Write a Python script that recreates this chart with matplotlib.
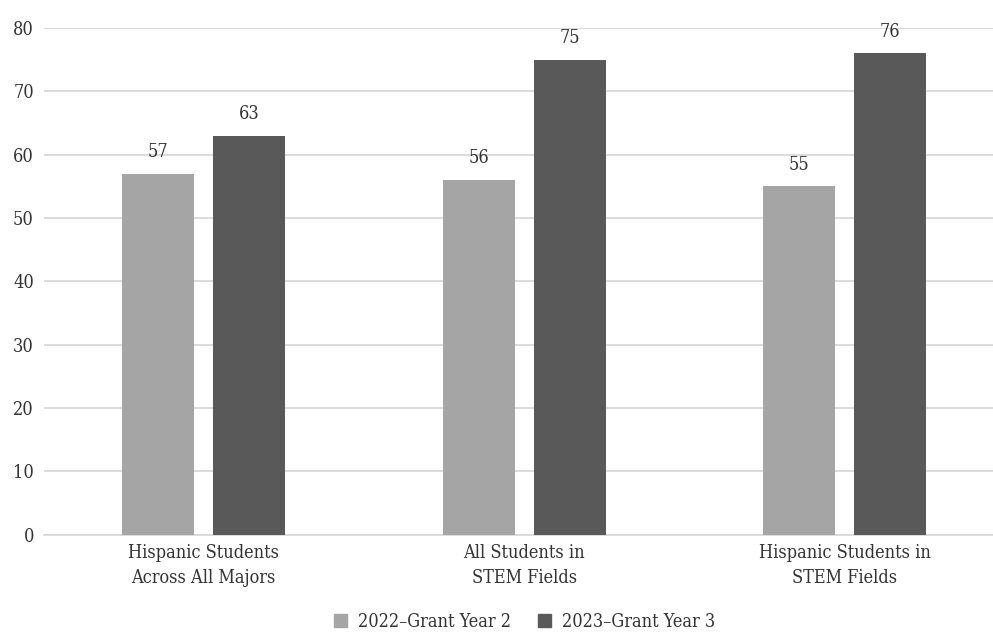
import matplotlib
matplotlib.use('Agg')
from matplotlib import pyplot as plt
from matplotlib.patches import Patch
import numpy as np

# Данные
categories = ['Hispanic Students\nAcross All Majors', 'All Students in\nSTEM Fields', 'Hispanic Students in\nSTEM Fields']
series_names = ['2022\u2013Grant Year 2', '2023\u2013Grant Year 3']
year2 = [57, 56, 55]
year3 = [63, 75, 76]
colors = ['#A5A5A5', '#595959']
txt = '#333333'
fs = 13

plt.rcParams['font.family'] = ['DejaVu Serif']
plt.rcParams['font.stretch'] = 'condensed'

fig = plt.figure(figsize=(9.93, 6.33), dpi=100)
W, H = 993, 633
left, right = 43.5, 993
bottom, top = 534.5, 28
ax = fig.add_axes([left / W, 1 - bottom / H, (right - left) / W, (bottom - top) / H])

x = np.arange(len(categories))
bw = 0.2246
off = 0.142
b1 = ax.bar(x - off, year2, bw, color=colors[0], zorder=3)
b2 = ax.bar(x + off, year3, bw, color=colors[1], zorder=3)

for bars in (b1, b2):
    for rect in bars:
        ax.annotate(f'{int(rect.get_height())}',
                    (rect.get_x() + rect.get_width() / 2, rect.get_height()),
                    xytext=(0, 9), textcoords='offset points',
                    ha='center', va='bottom', fontsize=fs, color=txt)

ax.set_xlim(-0.5, -0.5 + (right - left) / 320.5)
ax.set_ylim(0, 80)
ax.set_yticks(range(0, 81, 10))
ax.yaxis.grid(True, color='#D9D9D9', linewidth=1.3, zorder=0)
ax.set_axisbelow(True)
for s in ['top', 'right', 'left']:
    ax.spines[s].set_visible(False)
ax.spines['bottom'].set_color('#D9D9D9')
ax.spines['bottom'].set_linewidth(1.3)
ax.tick_params(axis='both', length=0, labelsize=fs, colors=txt)
ax.tick_params(axis='y', pad=7)
ax.set_xticks(x)
ax.set_xticklabels(categories, fontsize=fs, linespacing=1.45)
ax.tick_params(axis='x', pad=7)

handles = [Patch(color=colors[0], label=series_names[0]),
           Patch(color=colors[1], label=series_names[1])]
fig.legend(handles=handles, loc='center', bbox_to_anchor=(525 / W, 1 - 622 / H),
           ncol=2, frameon=False, fontsize=fs, handlelength=0.68, handleheight=0.68,
           handletextpad=0.65, columnspacing=1.5, labelcolor=txt)

fig.savefig('out.png', dpi=100)
